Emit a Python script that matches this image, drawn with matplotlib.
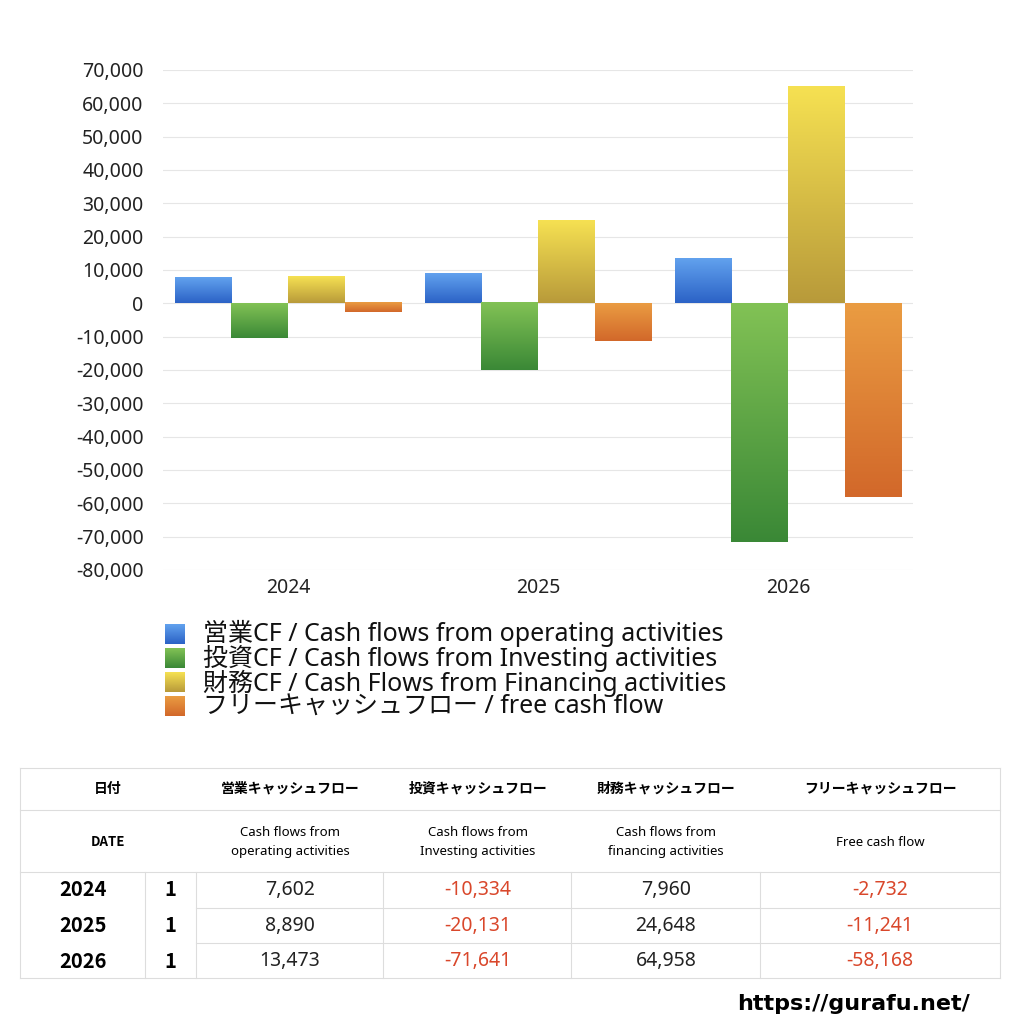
import numpy as np
import matplotlib
matplotlib.use("Agg")
import matplotlib.pyplot as plt
from matplotlib.colors import LinearSegmentedColormap
from matplotlib.ticker import FuncFormatter

plt.rcParams['font.family'] = ['Noto Sans', 'Noto Sans CJK JP', 'DejaVu Sans']
BOLD_FAM = ['Noto Sans CJK JP', 'DejaVu Sans']

years = ['2024', '2025', '2026']
operating = [7602, 8890, 13473]
investing = [-10334, -20131, -71641]
financing = [7960, 24648, 64958]
free_cf = [-2732, -11241, -58168]

series = [operating, investing, financing, free_cf]
legend_labels = [
    '営業CF / Cash flows from operating activities',
    '投資CF / Cash flows from Investing activities',
    '財務CF / Cash Flows from Financing activities',
    'フリーキャッシュフロー / free cash flow',
]
# (top colour, bottom colour) for gradient bars
grad_colors = [
    ('#62a2ee', '#2b62c6'),
    ('#82c255', '#3a8836'),
    ('#f6e152', '#b89a3a'),
    ('#ea9c42', '#d2682a'),
]

head_jp = ['営業キャッシュフロー', '投資キャッシュフロー', '財務キャッシュフロー', 'フリーキャッシュフロー']
head_en = ['Cash flows from\noperating activities', 'Cash flows from\nInvesting activities',
           'Cash flows from\nfinancing activities', 'Free cash flow']
months = ['1', '1', '1']

fig = plt.figure(figsize=(10.24, 10.24), dpi=100)
ax = fig.add_axes([163/1024, 1-570/1024, 750/1024, 500/1024])

w = 0.227
for j, vals in enumerate(series):
    cmap = LinearSegmentedColormap.from_list('g%d' % j, grad_colors[j])
    grad = np.linspace(0, 1, 256).reshape(-1, 1)
    for i, v in enumerate(vals):
        x0 = i + (j - 2) * w
        ax.imshow(grad, extent=[x0, x0 + w, min(0, v), max(0, v)],
                  aspect='auto', cmap=cmap, zorder=2, interpolation='bilinear')

ax.set_xlim(-0.5, 2.5)
ax.set_ylim(-80000, 70000)
ax.set_yticks(np.arange(-80000, 70001, 10000))
ax.yaxis.set_major_formatter(FuncFormatter(lambda v, p: f'{int(v):,}'))
ax.set_xticks(range(len(years)))
ax.set_xticklabels(years)
ax.tick_params(length=0, labelsize=14, colors='#222222')
ax.tick_params(axis='y', pad=14)
ax.tick_params(axis='x', pad=6)
ax.grid(axis='y', color='#e6e6e6', linewidth=0.8, zorder=0)
ax.set_axisbelow(True)
for s in ax.spines.values():
    s.set_visible(False)

# legend: colour boxes plus one multi-line text block
for j in range(len(legend_labels)):
    yc = 1 - (634 + j * 24) / 1024
    cax = fig.add_axes([165/1024, yc - 10/1024, 20/1024, 20/1024])
    cmap = LinearSegmentedColormap.from_list('l%d' % j, grad_colors[j])
    cax.imshow(np.linspace(0, 1, 64).reshape(-1, 1), aspect='auto', cmap=cmap)
    cax.axis('off')
fig.text(203/1024, 1 - 670/1024, '\n'.join(legend_labels), fontsize=18, va='center',
         ha='left', color='#111111', linespacing=0.89)

# table
def fx(px):
    return px / 1024

def fy(py):
    return 1 - py / 1024

line_c = '#dddddd'
col_edges = [20, 145, 196, 383, 571, 760, 1000]

def hline(y, x0, x1):
    fig.add_artist(plt.Line2D([fx(x0), fx(x1)], [fy(y), fy(y)], color=line_c, lw=0.8))

def vline(x, y0, y1):
    fig.add_artist(plt.Line2D([fx(x), fx(x)], [fy(y0), fy(y1)], color=line_c, lw=0.8))

hline(768, 20, 1000)
hline(810, 20, 1000)
hline(872, 20, 1000)
hline(908, 196, 1000)
hline(943, 196, 1000)
hline(978, 20, 1000)
vline(20, 768, 978)
vline(1000, 768, 978)
for x in col_edges[1:-1]:
    vline(x, 872, 978)

fig.text(fx(108), fy(789), '日付', fontsize=10, fontweight='bold', ha='center', va='center',
         family=BOLD_FAM)
fig.text(fx(108), fy(842), 'DATE', fontsize=9.5, fontweight='bold', ha='center', va='center',
         family=BOLD_FAM)
head_cx = [290, 478, 666, 880]
for k in range(4):
    fig.text(fx(head_cx[k]), fy(789), head_jp[k], fontsize=10, fontweight='bold',
             ha='center', va='center', family=BOLD_FAM)
    fig.text(fx(head_cx[k]), fy(842), head_en[k], fontsize=9.5, ha='center', va='center',
             linespacing=1.5)

row_cy = [890, 926, 961]
for i in range(len(years)):
    fig.text(fx(83), fy(row_cy[i]), years[i], fontsize=14.5, fontweight='bold',
             ha='center', va='center', family=BOLD_FAM)
    fig.text(fx(170), fy(row_cy[i]), months[i], fontsize=14.5, fontweight='bold',
             ha='center', va='center', family=BOLD_FAM)
    for k, vals in enumerate(series):
        v = vals[i]
        fig.text(fx(head_cx[k]), fy(row_cy[i]), f'{v:,}', fontsize=14, ha='center',
                 va='center', color='#d9472b' if v < 0 else '#222222')

fig.text(fx(970), fy(1004), 'https://gurafu.net/', fontsize=16, fontweight='bold',
         ha='right', va='center', family=['DejaVu Sans'])

fig.savefig('out.png', dpi=100, facecolor='white')
